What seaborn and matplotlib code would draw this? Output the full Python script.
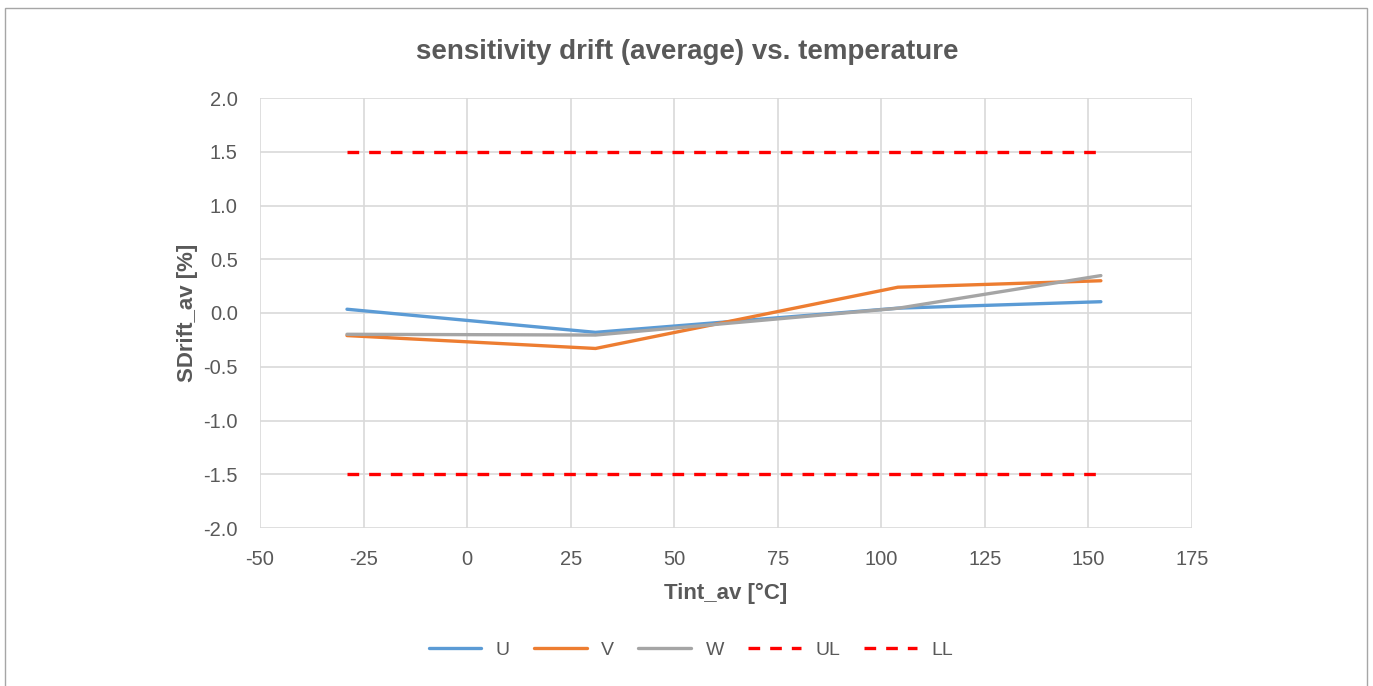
import matplotlib
matplotlib.use("Agg")
import matplotlib.pyplot as plt
from matplotlib.patches import Rectangle
import seaborn as sns
import pandas as pd

# Data
tint = [-29, 31, 104, 153]
sdrift_u = [0.035, -0.18, 0.045, 0.105]
sdrift_v = [-0.21, -0.33, 0.24, 0.30]
sdrift_w = [-0.198, -0.205, 0.044, 0.348]
limit_x = [-29, 153]
upper_limit = [1.5, 1.5]
lower_limit = [-1.5, -1.5]

sns.set_theme(style="white")
plt.rcParams['font.family'] = ['Liberation Sans', 'DejaVu Sans']
plt.rcParams['axes.unicode_minus'] = False
text_col = "#595959"

fig = plt.figure(figsize=(13.73, 6.86), dpi=100)
ax = fig.add_axes([260 / 1373, 1 - 528 / 686, 932 / 1373, 430 / 686])

lines = pd.DataFrame({"Tint": tint, "U": sdrift_u, "V": sdrift_v, "W": sdrift_w})
sns.lineplot(data=lines, x="Tint", y="U", ax=ax, color="#5b9bd5", lw=2.4, label="U")
sns.lineplot(data=lines, x="Tint", y="V", ax=ax, color="#ed7d31", lw=2.4, label="V")
sns.lineplot(data=lines, x="Tint", y="W", ax=ax, color="#a5a5a5", lw=2.4, label="W")
sns.lineplot(x=limit_x, y=upper_limit, ax=ax, color="#ff0000", lw=2.4, ls=(0, (3.5, 3)), label="UL")
sns.lineplot(x=limit_x, y=lower_limit, ax=ax, color="#ff0000", lw=2.4, ls=(0, (3.5, 3)), label="LL")

ax.set_xlim(-50, 175)
ax.set_ylim(-2.0, 2.0)
ax.set_xticks(range(-50, 176, 25))
ax.set_yticks([-2.0, -1.5, -1.0, -0.5, 0.0, 0.5, 1.0, 1.5, 2.0])
ax.set_yticklabels([f"{v:.1f}" for v in ax.get_yticks()])
ax.grid(True, color="#d9d9d9", lw=1.2)
ax.set_axisbelow(True)
for s in ax.spines.values():
    s.set_visible(False)
ax.tick_params(axis="both", colors=text_col, labelsize=14.5, length=0)
ax.tick_params(axis="y", pad=16)
ax.tick_params(axis="x", pad=16)

ax.set_xlabel("Tint_av [°C]", fontsize=16, fontweight="bold", color=text_col, labelpad=10)
ax.set_ylabel("SDrift_av [%]", fontsize=16, fontweight="bold", color=text_col, labelpad=4)
fig.text(687 / 1373, 1 - 52 / 686, "sensitivity drift (average) vs. temperature",
         ha="center", va="center", fontsize=20, fontweight="bold", color=text_col)

ax.legend(loc="center", bbox_to_anchor=(691 / 1373, (686 - 650) / 686), bbox_transform=fig.transFigure,
          ncol=5, frameon=False, fontsize=14, labelcolor=text_col, handlelength=2.7,
          columnspacing=1.25, handletextpad=0.75)

fig.patches.append(Rectangle((5 / 1373, -0.01), 1362 / 1373, 1 - 8 / 686 + 0.01,
                             transform=fig.transFigure, fill=False, ec="#a6a6a6", lw=1))

fig.savefig("out.png", dpi=100)
